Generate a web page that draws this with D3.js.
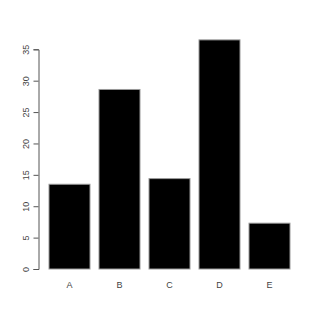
<!DOCTYPE html>
<html>
<head>
<meta charset="utf-8">
<script src="https://cdn.jsdelivr.net/npm/d3@7"></script>
<style>
  body { margin: 0; background: #fff; }
  text { font-family: "Liberation Sans", Arial, sans-serif; }
</style>
</head>
<body>
<div id="chart"></div>
<script>
// chart data
let categories = ["A", "B", "C", "D", "E"];
let values = [13.5, 28.6, 14.4, 36.5, 7.3];
let yTicks = [0, 5, 10, 15, 20, 25, 30, 35];

let width = 320;
let height = 320;

let svg = d3.select("#chart")
    .append("svg")
    .attr("width", width)
    .attr("height", height)

// x band scale, R-like spacing between bars
let xScale = d3.scaleBand()
    .domain(categories)
    .range([44.5, 294.5])
    .paddingInner(0.18)
    .paddingOuter(0.09)

let yScale = d3.scaleLinear()
    .domain([0, 35])
    .range([269, 49.3])

// bars
svg.selectAll(".bar")
    .data(values)
    .enter()
    .append("rect")
    .attr("class", "bar")
    .attr("x", (d, i) => xScale(categories[i]))
    .attr("width", xScale.bandwidth())
    .attr("y", d => yScale(d))
    .attr("height", d => yScale(0) - yScale(d))
    .attr("fill", "#000")
    .attr("stroke", "#999")
    .attr("stroke-width", 1)

// y axis
let yAxis = d3.axisLeft(yScale).tickValues(yTicks).tickSize(5)
let gy = svg.append("g")
    .attr("transform", "translate(38.5,0)")
    .call(yAxis)
gy.select(".domain").attr("stroke", "#555")
gy.selectAll(".tick line").attr("stroke", "#555")
// rotated labels, like R's las=0
gy.selectAll(".tick text")
    .attr("fill", "#444")
    .attr("font-size", 9)
    .attr("transform", "rotate(-90)")
    .attr("x", 0)
    .attr("y", -10)
    .attr("dy", 0)
    .attr("text-anchor", "middle")

// category labels
svg.selectAll(".xlab")
    .data(categories)
    .enter()
    .append("text")
    .attr("class", "xlab")
    .attr("x", d => xScale(d) + xScale.bandwidth() / 2)
    .attr("y", 288)
    .attr("text-anchor", "middle")
    .attr("font-size", 9)
    .attr("fill", "#444")
    .text(d => d)
</script>
</body>
</html>
